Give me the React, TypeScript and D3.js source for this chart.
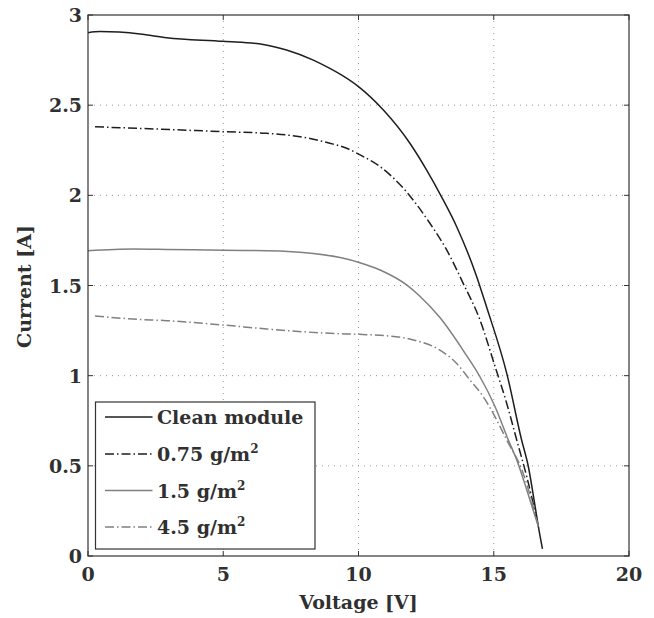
import React from "react";
import * as d3 from "d3";

const xTicks = [0, 5, 10, 15, 20];
const yTicks = [0, 0.5, 1, 1.5, 2, 2.5, 3];
const yTickLabels = ["0", "0.5", "1", "1.5", "2", "2.5", "3"];

const cleanV = [0, 0.44, 1.92, 2.91, 5, 6.48, 7.34, 8.33, 8.94, 9.32, 10.0, 10.92, 11.9, 12.52, 13.07, 13.63, 14.37, 14.73, 15.48, 16.03, 16.28, 16.53, 16.65, 16.8];
const cleanI = [2.902, 2.908, 2.895, 2.874, 2.854, 2.837, 2.806, 2.75, 2.704, 2.672, 2.603, 2.473, 2.289, 2.14, 1.992, 1.826, 1.549, 1.383, 1.013, 0.643, 0.495, 0.274, 0.163, 0.04];

const d075V = [0.26, 2.5, 5, 6.6, 7.84, 8.94, 9.56, 10.06, 10.8, 11.66, 12.64, 13.26, 13.87, 14.49, 15.05, 15.48, 15.85, 16.22, 16.65];
const d075I = [2.38, 2.368, 2.353, 2.344, 2.325, 2.289, 2.261, 2.224, 2.159, 2.039, 1.845, 1.697, 1.512, 1.309, 1.05, 0.846, 0.643, 0.44, 0.163];

const d15V = [0, 1.67, 2.9, 5, 6.6, 8.33, 9.32, 10.02, 10.8, 11.78, 12.27, 13.01, 13.94, 14.49, 15.05, 15.54, 15.85, 16.22, 16.65];
const d15I = [1.693, 1.702, 1.7, 1.695, 1.693, 1.678, 1.655, 1.628, 1.586, 1.503, 1.44, 1.322, 1.124, 0.994, 0.828, 0.643, 0.533, 0.367, 0.163];

const d45V = [0.26, 1.67, 2.9, 5, 6.6, 8.94, 10.02, 10.98, 12.03, 12.89, 13.63, 14.12, 14.61, 15.11, 15.48, 16.09, 16.46, 16.65];
const d45I = [1.331, 1.314, 1.305, 1.281, 1.259, 1.235, 1.229, 1.222, 1.198, 1.152, 1.068, 0.976, 0.884, 0.754, 0.643, 0.458, 0.274, 0.163];

const seriesLabels = ["Clean module", "0.75 g/m", "1.5 g/m", "4.5 g/m"];
const seriesSup = ["", "2", "2", "2"];

const BLACK = "#1e1e1e";
const GRAY = "#808080";
const TEXT = "#303030";
const FONT = "'DejaVu Serif', serif";
const FS = 19;

const series = [
  { v: cleanV, i: cleanI, color: BLACK, dash: "none" },
  { v: d075V, i: d075I, color: BLACK, dash: "9,3,1.5,3" },
  { v: d15V, i: d15I, color: GRAY, dash: "none" },
  { v: d45V, i: d45I, color: GRAY, dash: "9,3,1.5,3" },
];

export default function App() {
  const W = 654, H = 618;
  const L = 88, R = 629, T = 15, B = 556;
  const x = d3.scaleLinear().domain([0, 20]).range([L, R]);
  const y = d3.scaleLinear().domain([0, 3]).range([B, T]);
  const line = d3
    .line<[number, number]>()
    .x((d) => x(d[0]))
    .y((d) => y(d[1]))
    .curve(d3.curveMonotoneX);

  const legX = 95.5, legY = 402, legW = 219.5, legH = 147;
  const rowY = [417, 454, 490.5, 527];

  return (
    <svg
      width={W}
      height={H}
      style={{ position: "absolute", left: 0, top: 0, background: "#fff" }}
      fontFamily={FONT}
    >
      <rect x={0} y={0} width={W} height={H} fill="#fff" />
      {xTicks.slice(1, -1).map((t) => (
        <line key={"gx" + t} x1={x(t)} x2={x(t)} y1={T} y2={B} stroke="#999" strokeWidth={1} strokeDasharray="1,5" />
      ))}
      {yTicks.slice(1, -1).map((t) => (
        <line key={"gy" + t} x1={L} x2={R} y1={y(t)} y2={y(t)} stroke="#999" strokeWidth={1} strokeDasharray="1,5" />
      ))}
      {series.map((s, k) => (
        <path
          key={"s" + k}
          d={line(s.v.map((v, j) => [v, s.i[j]] as [number, number])) || ""}
          fill="none"
          stroke={s.color}
          strokeWidth={1.5}
          strokeDasharray={s.dash}
        />
      ))}
      <rect x={L} y={T} width={R - L} height={B - T} fill="none" stroke="#333" strokeWidth={1.2} />
      {xTicks.map((t) => (
        <g key={"xt" + t}>
          <line x1={x(t)} x2={x(t)} y1={B} y2={B - 5} stroke="#333" />
          <line x1={x(t)} x2={x(t)} y1={T} y2={T + 5} stroke="#333" />
          <text x={x(t)} y={580.5} textAnchor="middle" fontSize={FS} fontWeight="bold" fill={TEXT}>
            {t}
          </text>
        </g>
      ))}
      {yTicks.map((t, k) => (
        <g key={"yt" + t}>
          <line x1={L} x2={L + 5} y1={y(t)} y2={y(t)} stroke="#333" />
          <line x1={R} x2={R - 5} y1={y(t)} y2={y(t)} stroke="#333" />
          <text x={82} y={y(t) + 7} textAnchor="end" fontSize={FS} fontWeight="bold" fill={TEXT}>
            {yTickLabels[k]}
          </text>
        </g>
      ))}
      <text x={(L + R) / 2} y={609} textAnchor="middle" fontSize={FS} fontWeight="bold" fill={TEXT}>
        Voltage [V]
      </text>
      <text
        transform={`translate(31,${(T + B) / 2 + 1}) rotate(-90)`}
        textAnchor="middle"
        fontSize={FS}
        fontWeight="bold"
        fill={TEXT}
      >
        Current [A]
      </text>
      <rect x={legX} y={legY} width={legW} height={legH} fill="#fff" stroke="#333" strokeWidth={1.2} />
      {series.map((s, k) => (
        <g key={"lg" + k}>
          <line x1={105} x2={152.5} y1={rowY[k]} y2={rowY[k]} stroke={s.color} strokeWidth={1.5} strokeDasharray={s.dash} />
          <text x={157} y={rowY[k] + 7} fontSize={FS} fontWeight="bold" fill={TEXT}>
            {seriesLabels[k]}
            {seriesSup[k] && (
              <tspan dy={-8} fontSize={12}>
                {seriesSup[k]}
              </tspan>
            )}
          </text>
        </g>
      ))}
    </svg>
  );
}
